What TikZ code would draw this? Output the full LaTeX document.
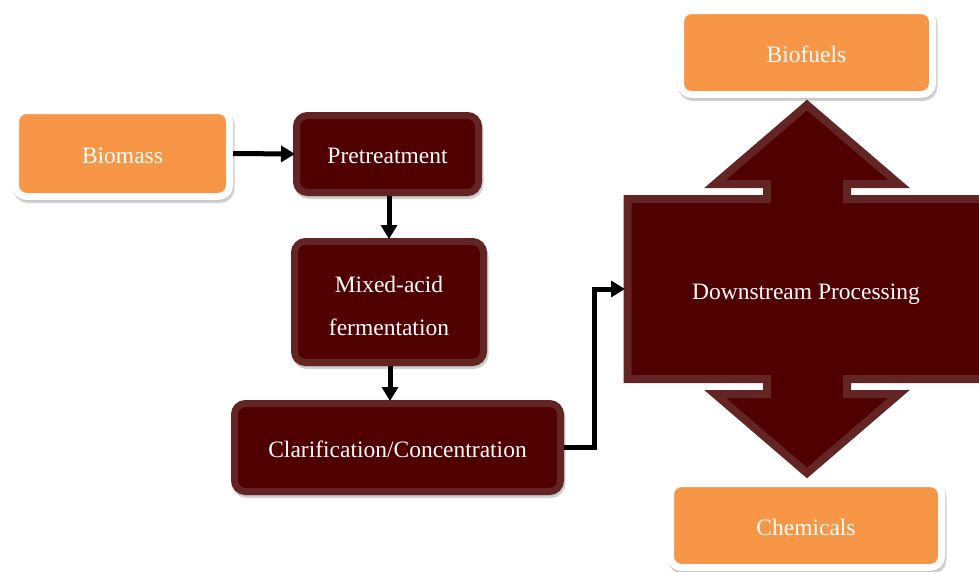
\documentclass[tikz,border=0pt]{standalone}
\usepackage{fontspec}
\setmainfont{Liberation Serif}
\usetikzlibrary{arrows.meta,shadows}
\definecolor{orng}{HTML}{F79646}
\definecolor{dkred}{HTML}{500000}
\definecolor{brd}{HTML}{632523}
\tikzset{
  shd/.style={general shadow={shadow xshift=0pt,shadow yshift=-1pt,opacity=0.08,fill=black,draw=black},
              general shadow={shadow xshift=1.5pt,shadow yshift=-3pt,opacity=0.18,fill=black,draw=black}},
  txt/.style={text=white,font=\fontsize{23.5}{28}\selectfont,text height=21pt,text depth=2pt},
  outbox/.style={shd,rectangle,rounded corners=11pt,fill=orng,draw=white,line width=7pt,
    inner sep=0pt,txt},
  procbox/.style={shd,rectangle,rounded corners=11pt,fill=dkred,draw=brd,line width=7pt,
    inner sep=0pt,txt,align=center},
  conn/.style={line width=5pt,draw=black,-{Triangle[length=14pt,width=16pt]}}
}
\begin{document}
\begin{tikzpicture}[x=1pt,y=-1pt]
\useasboundingbox (0,0) rectangle (979,571);
% big double arrow shape
\path[shd,fill=dkred,draw=brd,line width=8pt,line join=miter]
  (627.5,199) -- (767,199) -- (767,184) -- (715,184) -- (807,105) -- (899,184)
  -- (847,184) -- (847,199) -- (995,199) -- (995,379) -- (847,379) -- (847,394)
  -- (899,394) -- (807,473) -- (715,394) -- (767,394) -- (767,379) -- (627.5,379) -- cycle;
\node[txt] (down) at (806,290) {Downstream Processing};
\coordinate (dw) at (625,289);

\node[outbox,minimum width=214pt,minimum height=86pt] (bio) at (122.5,153.5) {Biomass};
\node[procbox,minimum width=182pt,minimum height=77pt] (pre) at (387.5,154) {Pretreatment};
\node[procbox,minimum width=189pt,minimum height=121pt,font=\fontsize{23.5}{43}\selectfont,
  text height=70pt,text depth=4pt] (mix) at (389,302) {Mixed-acid\\fermentation};
\node[procbox,minimum width=326pt,minimum height=88pt] (cla) at (397.5,447.5) {Clarification/Concentration};
\node[outbox,minimum width=252pt,minimum height=84pt] (fuel) at (806.5,52.5) {Biofuels};
\node[outbox,minimum width=271pt,minimum height=84pt] (chem) at (806,525.5) {Chemicals};

\draw[conn] (bio.east) -- ([xshift=2pt]pre.west);
\draw[conn] (pre.south -| 389,0) -- ([yshift=-1pt]mix.north -| 389,0);
\draw[conn] (mix.south -| 390,0) -- ([yshift=-1pt]cla.north -| 390,0);
\draw[conn] (cla.east) -- (594,447.5) |- (dw);
\end{tikzpicture}
\end{document}
